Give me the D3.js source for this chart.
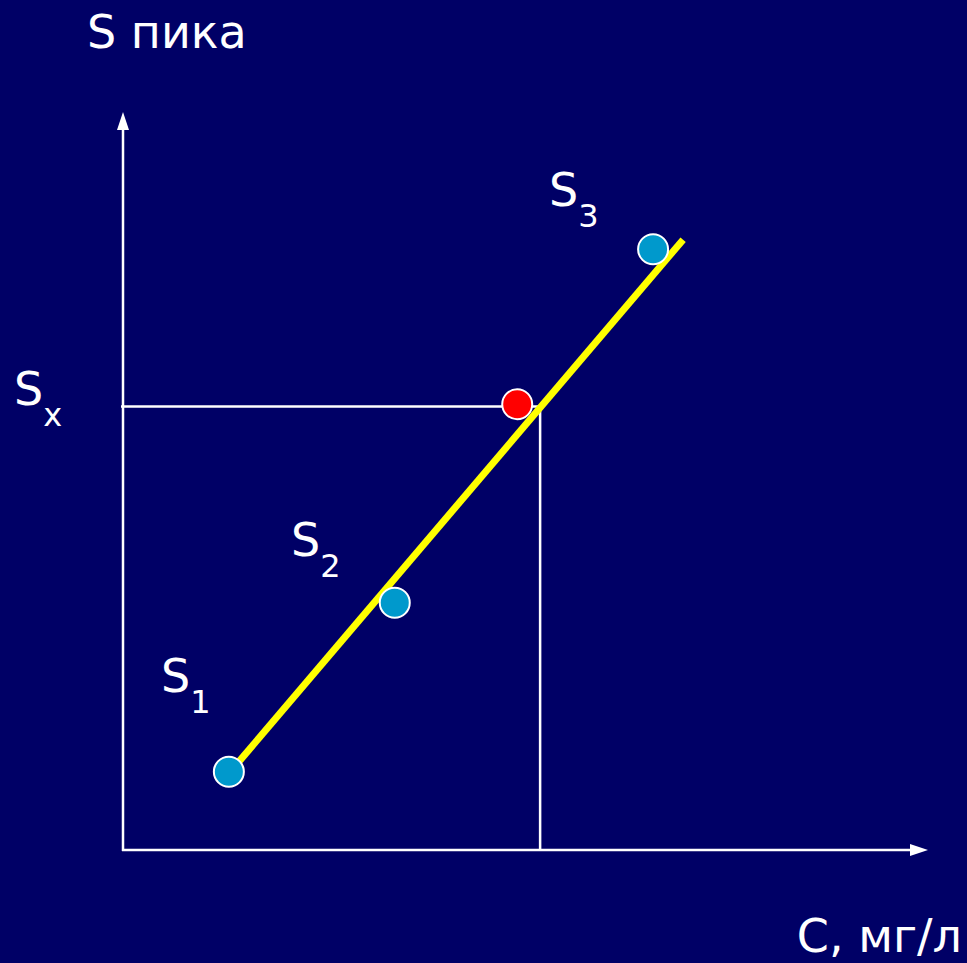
<!DOCTYPE html>
<html>
<head>
<meta charset="utf-8">
<script src="https://cdn.jsdelivr.net/npm/d3@7"></script>
<style>
  html, body { margin: 0; padding: 0; background: #000066; overflow: hidden; }
  svg { display: block; }
</style>
</head>
<body>
<div id="chart"></div>
<script>
// calibration points (concentration, peak area), arbitrary units
const stdNames = ['1', '2', '3'];
const stdC = [1.34, 3.44, 6.71];
const stdS = [1.06, 3.35, 8.14];

// unknown sample
const sampleC = 4.99;
const sampleS = 6.04;
const sxLevel = 6.01; // Sx guide line
const readC = 5.28;   // where Sx meets the calibration line

// calibration line ends
const lineC = [1.43, 7.09];
const lineS = [1.15, 8.27];

const width = 967;
const height = 963;

const x = d3.scaleLinear().domain([0, 10]).range([123, 913]);
const y = d3.scaleLinear().domain([0, 10]).range([850, 112]);

const svg = d3.select('#chart')
  .append('svg')
  .attr('width', width)
  .attr('height', height)
  .style('background', '#000066')
  .style('font-family', '"DejaVu Sans", Verdana, sans-serif');

svg.append('defs')
  .append('marker')
  .attr('id', 'arrow')
  .attr('viewBox', '0 0 18 12')
  .attr('refX', 0)
  .attr('refY', 6)
  .attr('markerWidth', 18)
  .attr('markerHeight', 12)
  .attr('markerUnits', 'userSpaceOnUse')
  .attr('orient', 'auto')
  .append('path')
  .attr('d', 'M0,0L18,6L0,12Z')
  .attr('fill', '#fff');

// axes
svg.append('line')
  .attr('x1', x(0)).attr('y1', y(0) + 1)
  .attr('x2', x(0)).attr('y2', y(10) + 18)
  .attr('stroke', '#fff').attr('stroke-width', 2.5)
  .attr('marker-end', 'url(#arrow)');
svg.append('line')
  .attr('x1', x(0) - 1).attr('y1', y(0))
  .attr('x2', x(10) - 3).attr('y2', y(0))
  .attr('stroke', '#fff').attr('stroke-width', 2.5)
  .attr('marker-end', 'url(#arrow)');

// Sx guide lines
svg.append('line')
  .attr('x1', x(0) - 2).attr('y1', y(sxLevel))
  .attr('x2', x(readC)).attr('y2', y(sxLevel))
  .attr('stroke', '#fff').attr('stroke-width', 2.5);
svg.append('line')
  .attr('x1', x(readC)).attr('y1', y(sxLevel))
  .attr('x2', x(readC)).attr('y2', y(0))
  .attr('stroke', '#fff').attr('stroke-width', 2.5);

// unknown sample point
svg.append('circle')
  .attr('cx', x(sampleC)).attr('cy', y(sampleS))
  .attr('r', 15)
  .attr('fill', '#ff0000')
  .attr('stroke', '#fff').attr('stroke-width', 2);

// calibration line
svg.append('line')
  .attr('x1', x(lineC[0])).attr('y1', y(lineS[0]))
  .attr('x2', x(lineC[1])).attr('y2', y(lineS[1]))
  .attr('stroke', '#ffff00').attr('stroke-width', 7);

// standards
svg.append('g')
  .selectAll('circle')
  .data(stdC)
  .join('circle')
  .attr('cx', (d) => x(d))
  .attr('cy', (d, i) => y(stdS[i]))
  .attr('r', 15)
  .attr('fill', '#0099cc')
  .attr('stroke', '#fff')
  .attr('stroke-width', 2);

// S labels with subscripts
function subLabel(px, py, main, sub) {
  const t = svg.append('text')
    .attr('x', px).attr('y', py)
    .attr('fill', '#fff')
    .style('font-size', '46px');
  t.append('tspan').text(main);
  t.append('tspan')
    .attr('dy', 21)
    .style('font-size', '32px')
    .text(sub);
}

const labelPos = [[161, 692], [291, 556], [549, 206]];
stdNames.forEach((n, i) => subLabel(labelPos[i][0], labelPos[i][1], 'S', n));
subLabel(14, 405, 'S', 'x');

svg.append('text')
  .attr('x', 87).attr('y', 48)
  .attr('fill', '#fff')
  .style('font-size', '46px')
  .text('S пика');

svg.append('text')
  .attr('x', 962).attr('y', 952)
  .attr('text-anchor', 'end')
  .attr('fill', '#fff')
  .style('font-size', '46px')
  .text('C, мг/л');
</script>
</body>
</html>
